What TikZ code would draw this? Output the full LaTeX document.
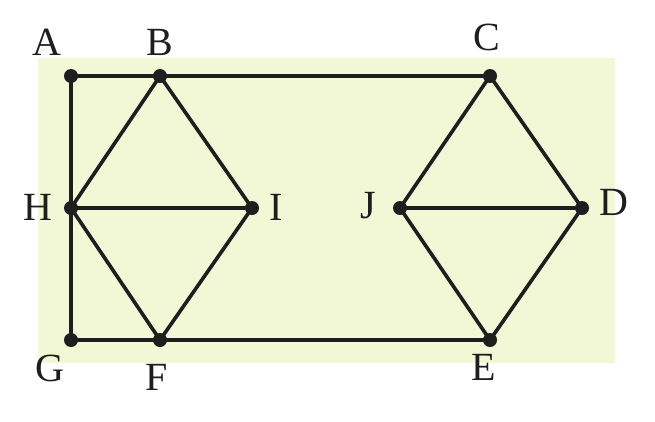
\documentclass[tikz,border=0pt]{standalone}
\usepackage{fontspec}
\setmainfont{Liberation Serif}
\definecolor{bgc}{HTML}{F2F7D6}
\definecolor{ink}{HTML}{1E1E1E}
\begin{document}
\begin{tikzpicture}[x=1pt,y=-1pt,
  vtx/.style={circle,fill=ink,inner sep=0pt,minimum size=14pt},
  lbl/.style={font=\fontsize{40}{40}\selectfont,inner sep=0pt,text=ink},
  edge/.style={draw=ink,line width=3.6pt}]
\useasboundingbox (0,0) rectangle (655,421);
\fill[bgc] (38,58) rectangle (615,363);
\node[vtx] (A) at (71,76) {};
\node[vtx] (B) at (160,76) {};
\node[vtx] (C) at (490,76) {};
\node[vtx] (H) at (71,208) {};
\node[vtx] (I) at (252,208) {};
\node[vtx] (J) at (400,208) {};
\node[vtx] (D) at (582,208) {};
\node[vtx] (G) at (71,340) {};
\node[vtx] (F) at (160,340) {};
\node[vtx] (E) at (490,340) {};
\draw[edge] (A.center) -- (B.center) -- (C.center);
\draw[edge] (A.center) -- (H.center) -- (G.center);
\draw[edge] (G.center) -- (F.center) -- (E.center);
\draw[edge] (B.center) -- (H.center);
\draw[edge] (B.center) -- (I.center);
\draw[edge] (H.center) -- (I.center);
\draw[edge] (H.center) -- (F.center);
\draw[edge] (I.center) -- (F.center);
\draw[edge] (C.center) -- (J.center);
\draw[edge] (C.center) -- (D.center);
\draw[edge] (J.center) -- (D.center);
\draw[edge] (J.center) -- (E.center);
\draw[edge] (D.center) -- (E.center);
\node[lbl] (lA) at (47,42) {A};
\node[lbl] (lB) at (160,42) {B};
\node[lbl] (lC) at (487,37) {C};
\node[lbl] (lH) at (38,207) {H};
\node[lbl] (lI) at (276,207) {I};
\node[lbl] (lJ) at (368,206) {J};
\node[lbl] (lD) at (614,202) {D};
\node[lbl] (lG) at (50,368) {G};
\node[lbl] (lF) at (157,377) {F};
\node[lbl] (lE) at (484,367) {E};
\end{tikzpicture}
\end{document}
